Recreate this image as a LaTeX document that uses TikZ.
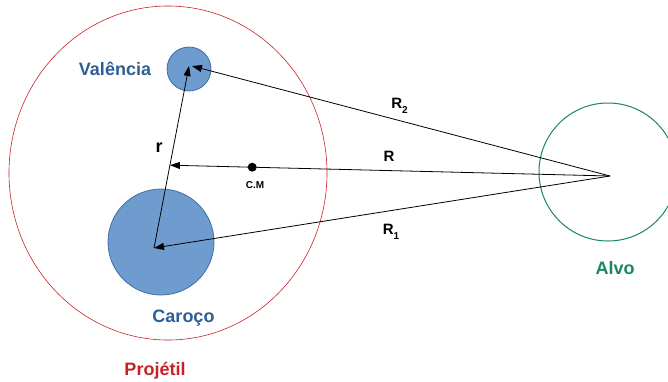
\documentclass[tikz,border=0pt]{standalone}
\usepackage{fontspec}
\setmainfont{Liberation Sans}
\usepackage{xcolor}
\usetikzlibrary{arrows.meta,positioning,calc}
\definecolor{corefill}{RGB}{110,156,206}
\definecolor{coreedge}{RGB}{68,108,162}
\definecolor{nucblue}{RGB}{46,94,150}
\definecolor{projred}{RGB}{200,32,38}
\definecolor{alvogreen}{RGB}{24,134,104}

\begin{document}
\begin{tikzpicture}[x=1pt, y=-1pt, font=\bfseries,
  vec/.style={-{Triangle[length=10pt,width=7pt]}, line width=0.8pt},
  blob/.style={circle, draw=coreedge, fill=corefill, inner sep=0pt, line width=0.8pt},
  big/.style={anchor=base, font=\fontsize{18}{18}\selectfont\bfseries},
  mid/.style={anchor=base, font=\fontsize{15}{15}\selectfont\bfseries}]
\useasboundingbox (0,0) rectangle (668,381);
\clip (0,0) rectangle (668,381);
% projetil
\draw[projred, line width=0.6pt] (168,173) ellipse [x radius=159, y radius=167];
\node[blob, minimum size=106pt] (caroco) at (161,242) {};
\node[blob, minimum size=44pt] (valencia) at (189,69) {};
\node[circle, draw=alvogreen, line width=1pt, inner sep=0pt, minimum size=138pt] (alvo) at (608,172) {};
\coordinate (core) at (154,248);
\coordinate (val) at (189,66);
\coordinate (tgt) at (610,176);
\coordinate (foot) at ($(core)!0.455!(val)$);
\node[circle, fill=black, inner sep=0pt, minimum size=9pt] (cm) at ($(tgt)!0.813!(foot)$) {};
% vetores
\draw[vec] (core) -- (val);
\draw[vec] (tgt) -- (foot);
\draw[vec] (tgt) -- (core);
\draw[vec] (tgt) -- ([xshift=3pt]val);
% textos
\node[big, nucblue] (tval) at (115,75) {Valência};
\node[big, nucblue] (tcar) at (183.5,322) {Caroço};
\node[big, projred] (tproj) at (155,375) {Projétil};
\node[big, alvogreen] (talvo) at (615,274) {Alvo};
\node[big] (tr) at (159,152) {r};
\node[mid] (tR) at (389,161) {R};
\node[mid] (tR2) at (399.5,108) {R\raisebox{-5pt}{\fontsize{10}{10}\selectfont 2}};
\node[mid] (tR1) at (391,234) {R\raisebox{-5pt}{\fontsize{10}{10}\selectfont 1}};
\node[anchor=base, font=\fontsize{10}{10}\selectfont\bfseries] (tcm) at (255,188) {C.M};
\end{tikzpicture}
\end{document}
